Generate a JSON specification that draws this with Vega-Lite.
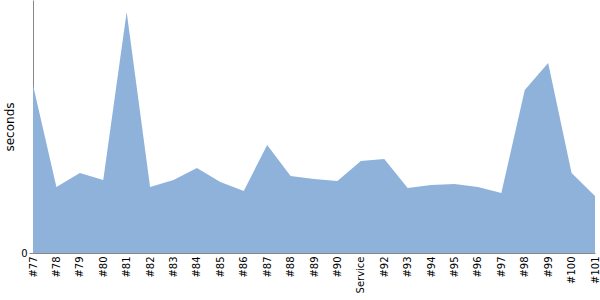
{
  "$schema": "https://vega.github.io/schema/vega-lite/v6.json",
  "width": 562,
  "height": 253,
  "autosize": {"type": "none"},
  "padding": {"left": 33, "top": 0, "right": 5, "bottom": 47},
  "config": {
    "view": {"stroke": null},
    "font": "DejaVu Sans"
  },
  "data": {
    "values": [
      {"build": "#77", "seconds": 168},
      {"build": "#78", "seconds": 66},
      {"build": "#79", "seconds": 80},
      {"build": "#80", "seconds": 73},
      {"build": "#81", "seconds": 241},
      {"build": "#82", "seconds": 66},
      {"build": "#83", "seconds": 73},
      {"build": "#84", "seconds": 85},
      {"build": "#85", "seconds": 71},
      {"build": "#86", "seconds": 62},
      {"build": "#87", "seconds": 108},
      {"build": "#88", "seconds": 77},
      {"build": "#89", "seconds": 74},
      {"build": "#90", "seconds": 72},
      {"build": "Service", "seconds": 92},
      {"build": "#92", "seconds": 94},
      {"build": "#93", "seconds": 65},
      {"build": "#94", "seconds": 68},
      {"build": "#95", "seconds": 69},
      {"build": "#96", "seconds": 66},
      {"build": "#97", "seconds": 60},
      {"build": "#98", "seconds": 163},
      {"build": "#99", "seconds": 190},
      {"build": "#100", "seconds": 80},
      {"build": "#101", "seconds": 57}
    ]
  },
  "mark": {"type": "area", "color": "#8fb2da", "opacity": 1, "interpolate": "linear"},
  "encoding": {
    "x": {
      "field": "build",
      "type": "ordinal",
      "sort": null,
      "scale": {"type": "point", "padding": 0},
      "axis": {
        "title": null,
        "labelAngle": -90,
        "labelFontSize": 10,
        "labelColor": "#000",
        "labelPadding": 3,
        "ticks": false,
        "domainColor": "#888",
        "grid": false
      }
    },
    "y": {
      "field": "seconds",
      "type": "quantitative",
      "scale": {"domain": [0, 253], "nice": false},
      "axis": {
        "title": "seconds",
        "titleFontSize": 12,
        "titleFontWeight": "normal",
        "titleColor": "#000",
        "titlePadding": 4,
        "values": [0],
        "labelFontSize": 10,
        "labelColor": "#000",
        "tickSize": 4,
        "tickColor": "#888",
        "domainColor": "#888",
        "grid": false
      }
    }
  }
}
